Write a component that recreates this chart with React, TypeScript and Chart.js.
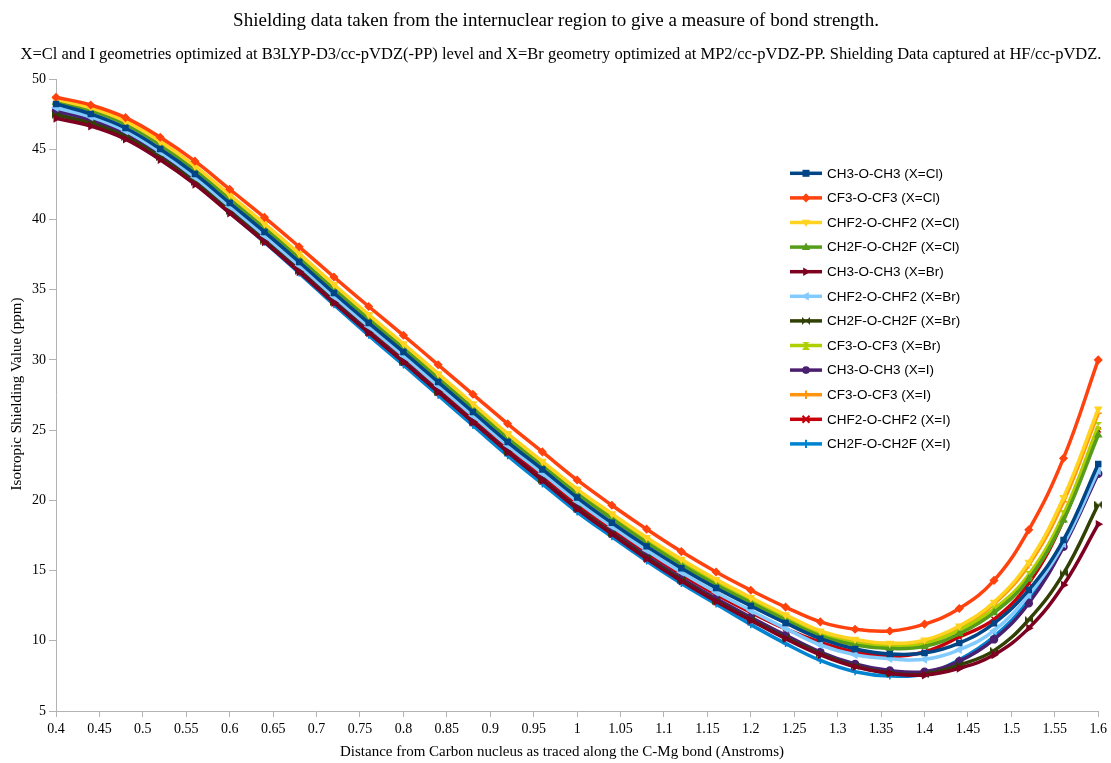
import React, { useEffect, useRef } from 'react';
import { Chart, registerables } from 'chart.js';

Chart.register(...registerables);

// Distance from the carbon nucleus along the C-Mg bond (Angstrom)
const distances = [
  0.40, 0.44, 0.48, 0.52, 0.56, 0.60, 0.64, 0.68, 0.72, 0.76, 0.80,
  0.84, 0.88, 0.92, 0.96, 1.00, 1.04, 1.08, 1.12, 1.16, 1.20, 1.24,
  1.28, 1.32, 1.36, 1.40, 1.44, 1.48, 1.52, 1.56, 1.60,
];

// Isotropic shielding values (ppm)
const ch3Cl = [
  48.22, 47.51, 46.51, 45.02, 43.24, 41.17, 39.11, 36.97, 34.76, 32.63, 30.56,
  28.42, 26.29, 24.15, 22.20, 20.20, 18.40, 16.72, 15.17, 13.76, 12.48, 11.27,
  10.15, 9.42, 9.06, 9.13, 9.84, 11.24, 13.62, 17.18, 22.59,
];
const cf3Cl = [
  48.70, 48.15, 47.25, 45.85, 44.15, 42.15, 40.15, 38.05, 35.90, 33.80, 31.75,
  29.65, 27.55, 25.45, 23.45, 21.45, 19.65, 17.95, 16.35, 14.90, 13.60, 12.40,
  11.35, 10.82, 10.70, 11.19, 12.30, 14.30, 17.90, 23.00, 30.00,
];
const chf2Cl = [
  48.55, 47.95, 47.00, 45.55, 43.80, 41.75, 39.70, 37.57, 35.37, 33.23, 31.15,
  29.02, 26.88, 24.75, 22.78, 20.80, 19.05, 17.35, 15.80, 14.37, 13.08, 11.85,
  10.70, 10.10, 9.82, 10.05, 11.05, 12.75, 15.60, 20.20, 26.50,
];
const ch2fCl = [
  48.35, 47.75, 46.78, 45.30, 43.52, 41.45, 39.38, 37.24, 35.03, 32.89, 30.81,
  28.68, 26.55, 24.41, 22.44, 20.46, 18.70, 16.99, 15.42, 13.99, 12.71, 11.48,
  10.34, 9.70, 9.45, 9.60, 10.50, 12.00, 14.40, 18.60, 24.65,
];
const ch3Br = [
  47.20, 46.65, 45.72, 44.25, 42.50, 40.45, 38.40, 36.27, 34.07, 31.93, 29.85,
  27.72, 25.59, 23.45, 21.43, 19.40, 17.60, 15.85, 14.25, 12.80, 11.45, 10.15,
  9.00, 8.15, 7.68, 7.56, 8.04, 9.00, 10.90, 13.97, 18.30,
];
const chf2Br = [
  47.95, 47.30, 46.30, 44.80, 43.00, 40.92, 38.85, 36.72, 34.51, 32.38, 30.30,
  28.16, 26.03, 23.90, 21.93, 19.93, 18.15, 16.45, 14.88, 13.45, 12.15, 10.88,
  9.70, 9.00, 8.72, 8.68, 9.36, 10.72, 13.26, 16.90, 22.10,
];
const ch2fBr = [
  47.45, 46.85, 45.90, 44.42, 42.65, 40.58, 38.50, 36.35, 34.13, 31.97, 29.88,
  27.74, 25.60, 23.46, 21.46, 19.46, 17.66, 15.92, 14.32, 12.85, 11.50, 10.22,
  9.08, 8.20, 7.70, 7.62, 8.27, 9.30, 11.50, 14.80, 19.70,
];
const cf3Br = [
  48.45, 47.85, 46.88, 45.42, 43.65, 41.58, 39.52, 37.38, 35.17, 33.03, 30.95,
  28.82, 26.69, 24.55, 22.58, 20.60, 18.83, 17.12, 15.55, 14.12, 12.84, 11.62,
  10.48, 9.85, 9.60, 9.78, 10.77, 12.25, 14.70, 19.00, 25.30,
];
const ch3I = [
  47.74, 47.10, 46.08, 44.57, 42.77, 40.68, 38.58, 36.40, 34.18, 32.02, 29.93,
  27.78, 25.63, 23.48, 21.48, 19.47, 17.72, 16.02, 14.45, 13.00, 11.68, 10.40,
  9.20, 8.35, 7.88, 7.80, 8.55, 10.10, 12.67, 16.70, 21.90,
];
const cf3I = [
  48.60, 48.00, 47.02, 45.55, 43.76, 41.68, 39.62, 37.48, 35.27, 33.13, 31.05,
  28.92, 26.78, 24.65, 22.67, 20.68, 18.93, 17.23, 15.67, 14.24, 12.95, 11.72,
  10.58, 9.98, 9.72, 9.92, 10.92, 12.62, 15.40, 19.90, 26.20,
];
const chf2I = [
  47.45, 46.85, 45.90, 44.45, 42.68, 40.63, 38.57, 36.45, 34.25, 32.12, 30.05,
  27.92, 25.80, 23.67, 21.70, 19.72, 17.98, 16.28, 14.72, 13.30, 12.02, 10.85,
  9.90, 9.20, 8.90, 9.20, 10.27, 11.53, 14.10, 18.60, 25.00,
];
const ch2fI = [
  47.65, 46.95, 45.95, 44.45, 42.62, 40.50, 38.38, 36.18, 33.93, 31.75, 29.64,
  27.48, 25.33, 23.18, 21.17, 19.17, 17.40, 15.68, 14.08, 12.62, 11.15, 9.80,
  8.60, 7.80, 7.49, 7.65, 8.65, 10.30, 12.90, 16.80, 22.00,
];

const seriesLabels = [
  'CH3-O-CH3 (X=Cl)', 'CF3-O-CF3 (X=Cl)', 'CHF2-O-CHF2 (X=Cl)', 'CH2F-O-CH2F (X=Cl)',
  'CH3-O-CH3 (X=Br)', 'CHF2-O-CHF2 (X=Br)', 'CH2F-O-CH2F (X=Br)', 'CF3-O-CF3 (X=Br)',
  'CH3-O-CH3 (X=I)', 'CF3-O-CF3 (X=I)', 'CHF2-O-CHF2 (X=I)', 'CH2F-O-CH2F (X=I)',
];
const seriesValues = [
  ch3Cl, cf3Cl, chf2Cl, ch2fCl, ch3Br, chf2Br, ch2fBr, cf3Br, ch3I, cf3I, chf2I, ch2fI,
];
const seriesColors = [
  '#004586', '#ff420e', '#ffd320', '#579d1c', '#7e0021', '#83caff',
  '#314004', '#aecf00', '#4b1f6f', '#ff950e', '#c5000b', '#0084d1',
];
// marker: [shape, rotation]
const seriesMarkers: [string, number][] = [
  ['rect', 0], ['rectRot', 0], ['triangle', 180], ['triangle', 0],
  ['triangle', 90], ['triangle', -90], ['bowtie', 0], ['hourglass', 0],
  ['circle', 0], ['cross', 0], ['crossRot', 0], ['cross', 0],
];

const xTicks = [
  0.4, 0.45, 0.5, 0.55, 0.6, 0.65, 0.7, 0.75, 0.8, 0.85, 0.9, 0.95, 1,
  1.05, 1.1, 1.15, 1.2, 1.25, 1.3, 1.35, 1.4, 1.45, 1.5, 1.55, 1.6,
];
const yTicks = [5, 10, 15, 20, 25, 30, 35, 40, 45, 50];

const titleText = 'Shielding data taken from the internuclear region to give a measure of bond strength.';
const subtitleText =
  'X=Cl and I geometries optimized at B3LYP-D3/cc-pVDZ(-PP) level and X=Br geometry optimized at MP2/cc-pVDZ-PP. Shielding Data captured at HF/cc-pVDZ.';
const xTitle = 'Distance from Carbon nucleus as traced along the C-Mg bond (Anstroms)';
const yTitle = 'Isotropic Shielding Value (ppm)';

const SERIF = '"Liberation Serif", "Times New Roman", serif';
const SANS = '"Liberation Sans", Arial, sans-serif';

function makeShapeCanvas(kind: string, color: string, size: number): HTMLCanvasElement {
  const c = document.createElement('canvas');
  c.width = size;
  c.height = size;
  const g = c.getContext('2d')!;
  g.fillStyle = color;
  const s = size;
  g.beginPath();
  if (kind === 'bowtie') {
    g.moveTo(0, 0); g.lineTo(s / 2, s / 2); g.lineTo(0, s); g.closePath();
    g.moveTo(s, 0); g.lineTo(s / 2, s / 2); g.lineTo(s, s); g.closePath();
  } else {
    g.moveTo(0, 0); g.lineTo(s, 0); g.lineTo(s / 2, s / 2); g.closePath();
    g.moveTo(0, s); g.lineTo(s, s); g.lineTo(s / 2, s / 2); g.closePath();
  }
  g.fill();
  return c;
}

function drawMarker(
  ctx: CanvasRenderingContext2D,
  shape: string | HTMLCanvasElement,
  rot: number,
  x: number,
  y: number,
  r: number,
  color: string,
) {
  ctx.save();
  ctx.translate(x, y);
  ctx.rotate((rot * Math.PI) / 180);
  ctx.fillStyle = color;
  ctx.strokeStyle = color;
  ctx.lineWidth = 2;
  if (typeof shape !== 'string') {
    ctx.drawImage(shape, -shape.width / 2, -shape.height / 2);
  } else if (shape === 'rect') {
    ctx.fillRect(-r, -r, 2 * r, 2 * r);
  } else if (shape === 'rectRot') {
    ctx.beginPath();
    ctx.moveTo(0, -r * 1.3); ctx.lineTo(r * 1.3, 0); ctx.lineTo(0, r * 1.3); ctx.lineTo(-r * 1.3, 0);
    ctx.closePath(); ctx.fill();
  } else if (shape === 'triangle') {
    ctx.beginPath();
    ctx.moveTo(0, -r * 1.3); ctx.lineTo(r * 1.2, r * 0.8); ctx.lineTo(-r * 1.2, r * 0.8);
    ctx.closePath(); ctx.fill();
  } else if (shape === 'circle') {
    ctx.beginPath(); ctx.arc(0, 0, r * 1.1, 0, Math.PI * 2); ctx.fill();
  } else if (shape === 'cross') {
    ctx.beginPath();
    ctx.moveTo(-r * 1.2, 0); ctx.lineTo(r * 1.2, 0); ctx.moveTo(0, -r * 1.2); ctx.lineTo(0, r * 1.2);
    ctx.stroke();
  } else if (shape === 'crossRot') {
    ctx.beginPath();
    ctx.moveTo(-r, -r); ctx.lineTo(r, r); ctx.moveTo(r, -r); ctx.lineTo(-r, r);
    ctx.stroke();
  }
  ctx.restore();
}

export default function App() {
  const canvasRef = useRef<HTMLCanvasElement | null>(null);

  useEffect(() => {
    const canvas = canvasRef.current;
    if (!canvas) return;

    const pointStyles = seriesMarkers.map(([shape], i) =>
      shape === 'bowtie' || shape === 'hourglass' ? makeShapeCanvas(shape, seriesColors[i], 8) : shape,
    );

    const datasets = seriesValues.map((vals, i) => ({
      label: seriesLabels[i],
      data: distances.map((d, k) => ({ x: d, y: vals[k] })),
      borderColor: seriesColors[i],
      backgroundColor: seriesColors[i],
      borderWidth: 3.5,
      pointStyle: pointStyles[i] as any,
      pointRotation: seriesMarkers[i][1],
      pointRadius: 3.5,
      pointBorderWidth: 1.5,
      pointBackgroundColor: seriesColors[i],
      pointBorderColor: seriesColors[i],
      tension: 0.4,
      fill: false,
      clip: false as any,
    }));

    const textPlugin = {
      id: 'chartTexts',
      afterDraw(chart: any) {
        const ctx: CanvasRenderingContext2D = chart.ctx;
        ctx.save();
        ctx.fillStyle = '#000';
        ctx.textAlign = 'center';
        ctx.textBaseline = 'middle';
        ctx.font = `19px ${SERIF}`;
        ctx.fillText(titleText, 556, 21);
        ctx.font = `16.5px ${SERIF}`;
        ctx.fillText(subtitleText, 561, 55);
        ctx.font = `15px ${SERIF}`;
        ctx.fillText(xTitle, 562, 752);
        ctx.translate(17, 394);
        ctx.rotate(-Math.PI / 2);
        ctx.fillText(yTitle, 0, 0);
        ctx.restore();

        // legend inside the plot area
        ctx.save();
        ctx.font = `13.5px ${SANS}`;
        ctx.textAlign = 'left';
        ctx.textBaseline = 'middle';
        seriesLabels.forEach((label, i) => {
          const y = 173.3 + i * 24.6;
          const color = seriesColors[i];
          ctx.strokeStyle = color;
          ctx.lineWidth = 3.5;
          ctx.beginPath();
          ctx.moveTo(790, y);
          ctx.lineTo(822, y);
          ctx.stroke();
          drawMarker(ctx, pointStyles[i] as any, seriesMarkers[i][1], 806, y, 3.5, color);
          ctx.fillStyle = '#000';
          ctx.fillText(label, 827, y + 0.5);
        });
        ctx.restore();
      },
    };

    const chart = new Chart(canvas, {
      type: 'line',
      data: { datasets: datasets as any },
      options: {
        animation: false,
        responsive: false,
        devicePixelRatio: 1,
        events: [],
        layout: { padding: { top: 79, left: 0, right: 12, bottom: 0 } },
        plugins: {
          legend: { display: false },
          title: { display: false },
          tooltip: { enabled: false },
        },
        scales: {
          x: {
            type: 'linear',
            min: 0.4,
            max: 1.6,
            afterFit: (scale: any) => { scale.height = 52; },
            afterBuildTicks: (scale: any) => {
              scale.ticks = xTicks.map((v) => ({ value: v }));
            },
            ticks: {
              autoSkip: false,
              maxRotation: 0,
              padding: 4,
              color: '#000',
              font: { family: SERIF, size: 14 },
              callback: (v: any) => String(Math.round(Number(v) * 100) / 100),
            },
            grid: { drawOnChartArea: false, drawTicks: true, tickLength: 6, color: '#b3b3b3' },
            border: { display: true, color: '#b3b3b3', width: 1 },
          },
          y: {
            type: 'linear',
            min: 5,
            max: 50,
            afterFit: (scale: any) => { scale.width = 56; },
            afterBuildTicks: (scale: any) => {
              scale.ticks = yTicks.map((v) => ({ value: v }));
            },
            ticks: {
              padding: 3,
              color: '#000',
              font: { family: SERIF, size: 14 },
            },
            grid: { drawOnChartArea: false, drawTicks: true, tickLength: 7, color: '#b3b3b3' },
            border: { display: true, color: '#b3b3b3', width: 1 },
          },
        },
      },
      plugins: [textPlugin],
    });

    return () => chart.destroy();
  }, []);

  return (
    <div style={{ position: 'absolute', left: 0, top: 0, width: 1111, height: 763, background: '#fff' }}>
      <canvas ref={canvasRef} width={1111} height={763} style={{ display: 'block' }} />
    </div>
  );
}
